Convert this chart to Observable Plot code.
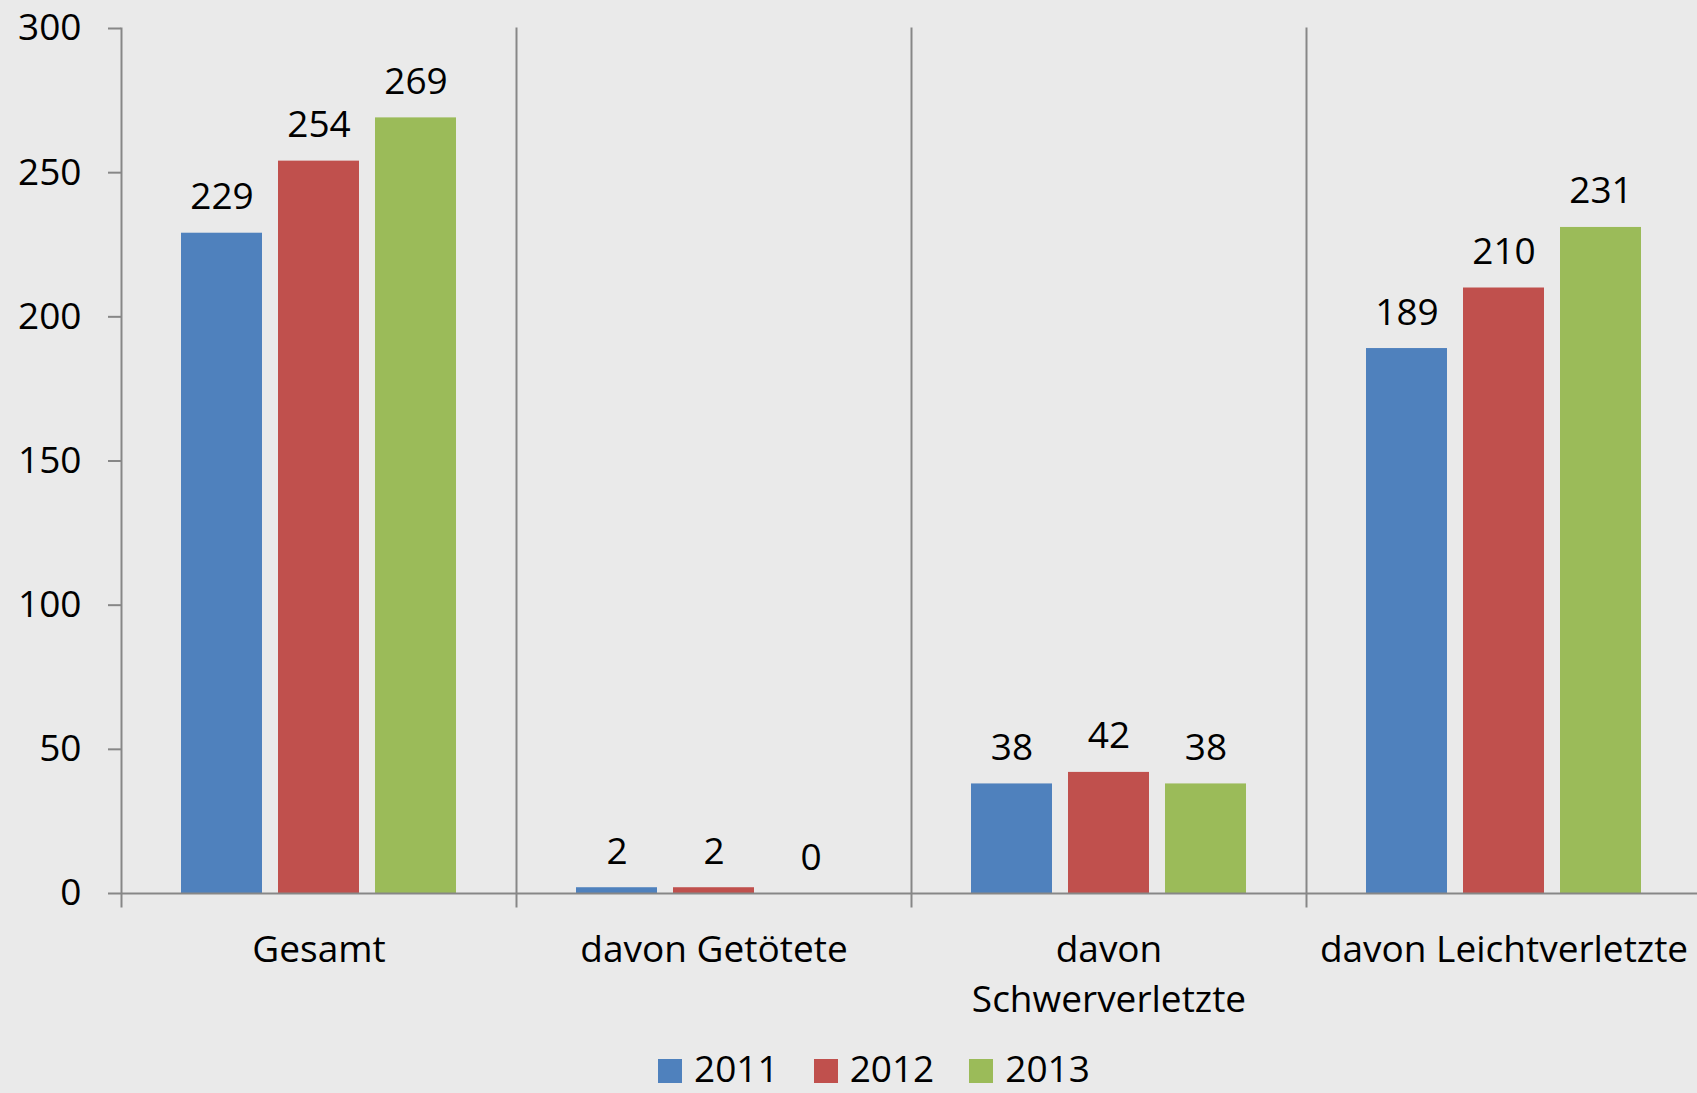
<!DOCTYPE html>
<html>
<head>
<meta charset="utf-8">
<script src="https://cdn.jsdelivr.net/npm/d3@7"></script>
<script src="https://cdn.jsdelivr.net/npm/@observablehq/plot@0.6"></script>
<style>
  html, body { margin: 0; padding: 0; background: #eaeaea; overflow: hidden; width: 1697px; height: 1093px; }
  #chart { width: 1701px; height: 1055px; }
  #chart svg { display: block; max-width: none !important; }
  #legend { display: flex; align-items: flex-start; padding-left: 658px; height: 37px; line-height: 37px; margin-top: -6px;
    font-family: "Open Sans", sans-serif; font-size: 37px; color: #000; }
  #legend .item { display: flex; align-items: flex-start; margin-right: 35px; }
  #legend .sw { width: 24px; height: 24px; margin-right: 12px; margin-top: 10px; }
</style>
</head>
<body>
<div id="chart"></div>
<div id="legend"></div>
<script>
const categories = ["Gesamt", "davon Getötete", "davon Schwerverletzte", "davon Leichtverletzte"];
const categoryLabels = ["Gesamt", "davon Getötete", "davon\nSchwerverletzte", "davon Leichtverletzte"];
const years = ["2011", "2012", "2013"];
const values2011 = [229, 2, 38, 189];
const values2012 = [254, 2, 42, 210];
const values2013 = [269, 0, 38, 231];
const yTicks = [0, 50, 100, 150, 200, 250, 300];
const colors = ["#4f81bd", "#c0504d", "#9bbb59"];

const series = [values2011, values2012, values2013];
const data = [];
categories.forEach((c, i) => years.forEach((y, j) => data.push({category: c, year: y, value: series[j][i]})));
const labelOf = new Map(categories.map((c, i) => [c, categoryLabels[i]]));

const font = "Open Sans, sans-serif";
const fs = 37;
const grey = "#878787";

const chart = Plot.plot({
  width: 1701,
  height: 1055,
  marginTop: 28,
  marginBottom: 162,
  marginLeft: 120,
  marginRight: 0,
  facet: {margin: 0, marginTop: 0, marginBottom: 0, marginLeft: 0, marginRight: 0},
  style: {fontFamily: font, fontSize: fs + "px", background: "transparent", color: "#000", maxWidth: "none"},
  fx: {domain: categories, padding: 0, paddingInner: 0, paddingOuter: 0, label: null, axis: null},
  x: {domain: years, paddingInner: 0.168, paddingOuter: 0.62, axis: null, label: null},
  y: {domain: [0, 300], axis: null, label: null},
  color: {domain: years, range: colors},
  marks: [
    Plot.barY(data, {fx: "category", x: "year", y: "value", fill: "year"}),
    Plot.ruleY([0], {stroke: grey, strokeWidth: 2}),
    Plot.frame({anchor: "left", stroke: grey, strokeWidth: 2, insetBottom: -13}),
    Plot.axisY({ticks: yTicks, tickSize: 13, tickPadding: 27, stroke: grey, strokeWidth: 2,
      fontSize: fs, fill: "#000", label: null, tickFormat: d => String(d)}),
    Plot.axisFx({anchor: "bottom", tickSize: 0, tickPadding: 33, fontSize: fs, fill: "#000",
      lineHeight: 1.35, label: null, tickFormat: d => labelOf.get(d)}),
    Plot.text(data, {fx: "category", x: "year", y: "value", text: d => String(d.value),
      lineAnchor: "bottom", dy: -24, fontSize: fs, fill: "#000"})
  ]
});
document.getElementById("chart").appendChild(chart);

const legend = d3.select("#legend");
years.forEach((y, i) => {
  const item = legend.append("div").attr("class", "item");
  item.append("div").attr("class", "sw").style("background", colors[i]);
  item.append("span").text(y);
});
</script>
</body>
</html>
